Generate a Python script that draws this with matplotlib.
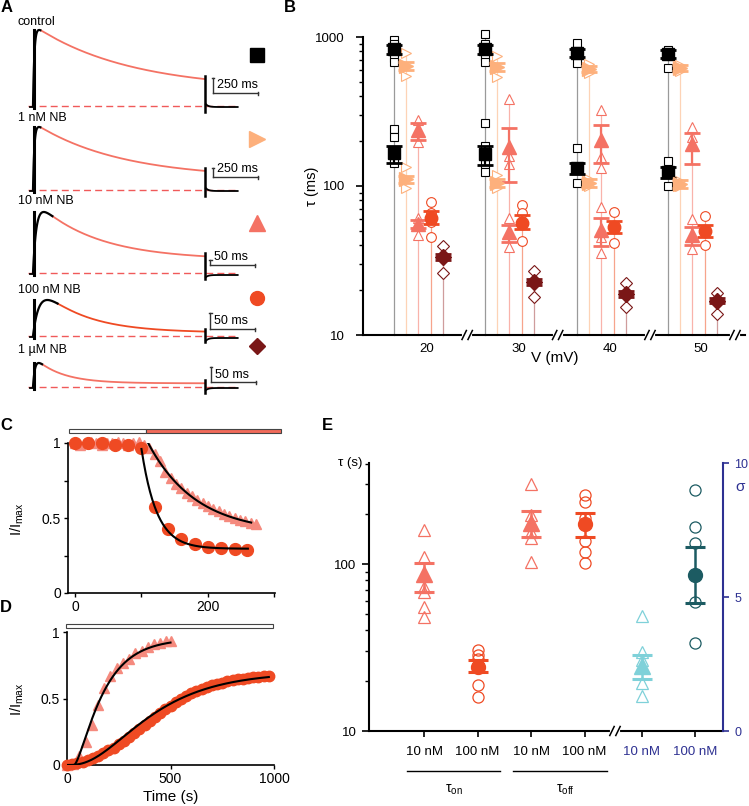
import numpy as np
import matplotlib
matplotlib.use("Agg")
import matplotlib.pyplot as plt
from matplotlib.patches import Rectangle

plt.rcParams["font.family"] = ["Liberation Sans", "DejaVu Sans"]
plt.rcParams["mathtext.fontset"] = "custom"
plt.rcParams["mathtext.rm"] = "Liberation Sans"
plt.rcParams["mathtext.it"] = "Liberation Sans:italic"
plt.rcParams["font.size"] = 9

W, H = 749, 806

# ======================== colours ========================
C_CTRL = "#000000"
C_NB1 = "#fdb07c"
C_NB10 = "#f47264"
C_NB100 = "#ef4a23"
C_NB1000 = "#7a1717"
C_CYAN = "#7fd1d9"
C_TEAL = "#1c5b62"
C_NAVY = "#2e3192"
C_BASE = "#f05a5a"

# ======================== data ========================
# A: example traces (exponential decay parameters, pulse-normalised time)
trace_names = ["control", "1 nM NB", "10 nM NB", "100 nM NB", "1 µM NB"]
trace_tau = [0.556, 0.50, 0.35, 0.26, 0.157]
trace_rise = [0.008, 0.008, 0.02, 0.04, 0.012]
trace_ss = [0.20, 0.17, 0.18, 0.06, 0.12]
trace_black = [0.04, 0.04, 0.11, 0.14, 0.05]
pulse_ms = [960, 960, 192, 192, 192]
scale_ms = [250, 250, 50, 50, 50]

# B: time constants (ms) at each voltage
volt = [20, 30, 40, 50]
ctrl_slow_mean = [830, 830, 782, 769]
ctrl_slow_lo = [770, 765, 730, 725]
ctrl_slow_hi = [885, 890, 835, 815]
ctrl_slow_pts = [[960, 900, 790, 720, 680], [1050, 900, 740, 680], [912, 670], [818, 620]]
ctrl_fast_mean = [166, 163, 132, 124]
ctrl_fast_lo = [143, 138, 120, 113]
ctrl_fast_hi = [186, 186, 143, 135]
ctrl_fast_pts = [[241, 213, 150, 143], [265, 186, 140, 124], [180, 105], [147, 100]]

nb1_slow_mean = [638, 630, 609, 620]
nb1_slow_lo = [600, 592, 582, 592]
nb1_slow_hi = [676, 668, 638, 650]
nb1_slow_pts = [[780, 545], [750, 540], [660, 570], [650, 590]]
nb1_fast_mean = [111, 105, 105, 103]
nb1_fast_lo = [105, 99, 99, 97]
nb1_fast_hi = [117, 111, 111, 109]
nb1_fast_pts = [[135, 97], [118, 97], [112, 100], [108, 100]]

nb10_slow_mean = [238, 183, 204, 191]
nb10_slow_lo = [203, 107, 143, 140]
nb10_slow_hi = [265, 245, 256, 228]
nb10_slow_pts = [[277, 197], [385, 160, 140], [323, 157, 132], [248, 213]]
nb10_fast_mean = [55.6, 49, 50.7, 46.9]
nb10_fast_lo = [52, 42, 39.5, 40]
nb10_fast_hi = [59, 54.8, 61, 53]
nb10_fast_pts = [[61, 47], [61, 39], [72, 45.5, 35.5], [60, 37.8]]

nb100_mean = [61, 56.5, 53, 49.9]
nb100_lo = [55.6, 51.5, 48.5, 45.4]
nb100_hi = [68, 64, 58, 54.8]
nb100_pts = [[78, 66, 57, 45.5], [74.5, 66, 42.7], [67, 41.5], [63, 40]]

nb1000_mean = [33.4, 22.7, 18.8, 16.9]
nb1000_lo = [32, 21.7, 18, 16.3]
nb1000_hi = [35, 23.8, 19.7, 17.6]
nb1000_pts = [[39.5, 26], [26.9, 18], [22.3, 15.4], [19.2, 13.8]]

# C: onset of block
c_tri_t = [0, 8, 16, 24, 32, 40, 48, 56, 64, 72, 80, 88, 96, 104, 112, 120, 128, 136,
           144, 152, 160, 168, 176, 184, 192, 200, 208, 216, 224, 232, 240, 248, 256, 264, 272]
c_tri_y = [1.0, 0.99, 1.0, 1.01, 1.0, 0.99, 1.0, 1.0, 1.01, 1.0, 0.99, 1.0, 1.01, 0.99,
           0.97, 0.93, 0.88, 0.81, 0.77, 0.73, 0.70, 0.67, 0.645, 0.62, 0.60, 0.58, 0.56,
           0.545, 0.53, 0.515, 0.50, 0.49, 0.48, 0.47, 0.46]
c_cir_t = [0, 20, 40, 60, 80, 100, 120, 140, 160, 180, 200, 220, 240, 258]
c_cir_y = [1.0, 1.0, 1.0, 0.99, 0.99, 0.97, 0.575, 0.427, 0.36, 0.327, 0.31, 0.30, 0.295, 0.29]
c_fit_tri = dict(t0=110, t1=265, y0=1.0, ss=0.40, tau=72)
c_fit_cir = dict(t0=100, t1=260, y0=0.96, ss=0.295, tau=23)

# D: recovery from block
d_tri_t = [0, 30, 60, 90, 120, 150, 180, 210, 240, 270, 300, 330, 360, 390, 420, 450, 480, 500]
d_tri_y = [0.0, 0.01, 0.07, 0.17, 0.30, 0.45, 0.58, 0.67, 0.73, 0.77, 0.80, 0.84, 0.86,
           0.89, 0.91, 0.92, 0.93, 0.93]
d_cir_t = list(range(0, 1000, 25))
d_cir_y = [0.00, 0.005, 0.015, 0.025, 0.04, 0.055, 0.07, 0.09, 0.11, 0.13, 0.155, 0.18,
           0.21, 0.24, 0.27, 0.30, 0.33, 0.36, 0.39, 0.42, 0.445, 0.47, 0.50, 0.52, 0.54,
           0.56, 0.575, 0.59, 0.60, 0.61, 0.62, 0.63, 0.64, 0.645, 0.65, 0.655, 0.66,
           0.665, 0.67, 0.672]
d_fit_tri = dict(amp=0.95, t0=35, tau=120, sig=1.5, t1=500)
d_fit_cir = dict(amp=0.70, t0=0, tau=245, sig=3.0, t1=975)

# E: tau (s) and sigma
e_labels = ["10 nM", "100 nM", "10 nM", "100 nM", "10 nM", "100 nM"]
ton10_pts = [160, 110, 86, 73, 68, 55, 48.5]
ton10_mean, ton10_lo, ton10_hi = 87, 68, 101
ton100_pts = [30.5, 28.5, 27, 18.9, 16]
ton100_mean, ton100_lo, ton100_hi = 24.2, 22.6, 26.5
toff10_pts = [300, 196, 178, 155, 143, 103]
toff10_mean, toff10_lo, toff10_hi = 176, 145, 208
toff100_pts = [259, 235, 190, 137, 118, 102]
toff100_mean, toff100_lo, toff100_hi = 173, 145, 203
sig10_pts = [4.3, 2.95, 2.65, 1.8, 1.3]
sig10_mean, sig10_lo, sig10_hi = 2.43, 1.94, 2.84
sig100_pts = [9.0, 7.6, 7.0, 4.8, 3.3]
sig100_mean, sig100_lo, sig100_hi = 5.82, 4.78, 6.87


def box(l, t, r, b):
    """pixel box -> figure fraction rect"""
    return [l / W, 1 - b / H, (r - l) / W, (b - t) / H]


def ftext(x, y, s, **kw):
    fig.text(x / W, 1 - y / H, s, **kw)


fig = plt.figure(figsize=(W / 100, H / 100), dpi=100)

# ======================== A ========================
base_px = [106, 190, 273, 336, 387]
amp_px = [76, 63, 61, 36, 24]
label_px = [22, 118, 201, 290, 350]
mark_px = [55, 139, 223, 298, 346]
bar_y_px = [93, 177, 265, 329, 382]
bar_h_px = [15, 9, 5, 16, 15]
bar_x = [1.047, 1.047, 1.03, 1.03, 1.035]
tail0 = [4, 4, -3, -4, -3]
tail_lvl = [-1, -1, -2, -2, -1]
red_col = [C_NB10, C_NB10, C_NB10, C_NB100, C_NB10]
leg_style = [("s", C_CTRL, 10), (">", C_NB1, 11), ("^", C_NB10, 11),
             ("o", C_NB100, 10), ("D", C_NB1000, 8.5)]
T_PX = 172.0   # pixels per pulse

for i in range(5):
    b, a = base_px[i], amp_px[i]
    ax = fig.add_axes(box(33 - 0.06 * T_PX, b - a - 12, 33 + 1.36 * T_PX, b + 14))
    ax.set_xlim(-0.06, 1.36)
    ax.set_ylim(-14, a + 12)
    ax.axis("off")
    ax.patch.set_alpha(0)

    t = np.linspace(0, 1, 800)
    shape = (1 - np.exp(-t / trace_rise[i])) * (trace_ss[i] + (1 - trace_ss[i]) * np.exp(-t / trace_tau[i]))
    y = a * shape / shape.max()
    k = t <= trace_black[i] + 0.003
    ax.plot([-0.03, 1.19], [0, 0], color=C_BASE, lw=1, ls=(0, (5, 3)), zorder=1)
    ax.plot(t[t >= trace_black[i]], y[t >= trace_black[i]], color=red_col[i], lw=1.3, zorder=2)
    ax.plot(t[k], y[k], color="black", lw=1.6, zorder=3)
    ax.plot([0.004, 0.004], [-2, a], color="black", lw=2.2, zorder=3)
    ax.plot([-0.02, 0.004], [-1, -1], color="black", lw=1.3, zorder=3)
    ax.plot([1.0, 1.0], [y[-1] + 3, -6], color="black", lw=1.8, zorder=3)
    tt = np.linspace(1.005, 1.19, 100)
    ax.plot(tt, tail_lvl[i] + tail0[i] * np.exp(-(tt - 1) / 0.015), color="black", lw=1.3, zorder=3)

    # scale bar
    yb = b - bar_y_px[i]
    xs = bar_x[i]
    xe = xs + scale_ms[i] / pulse_ms[i]
    ax.plot([xs, xs], [yb, yb + bar_h_px[i]], color="#333333", lw=1.0, clip_on=False)
    ax.plot([xs - 0.008, xs + 0.008], [yb + bar_h_px[i]] * 2, color="#333333", lw=1.0, clip_on=False)
    ax.plot([xs, xe], [yb, yb], color="#333333", lw=1.0, clip_on=False)
    ax.plot([xe, xe], [yb - 1.5, yb + 1.5], color="#333333", lw=1.0, clip_on=False)
    ax.text(xs + 0.025, yb + 1.5, f"{scale_ms[i]} ms", fontsize=9, va="bottom", ha="left")

    m, c, ms = leg_style[i]
    ax.plot(1.30, b - mark_px[i], m, color=c, ms=ms, mec=c, clip_on=False)
    ftext(18, label_px[i], trace_names[i], fontsize=9, va="center")

# ======================== B ========================
axb = fig.add_axes(box(363, 37, 745, 335))
axb.set_yscale("log")
axb.set_ylim(10, 1000)
axb.set_xlim(-0.70, 3.48)
gx = np.arange(len(volt))

b_series = [
    # mean, lo, hi, pts, offset, colour, marker, ms filled, ms open, guide colour
    (ctrl_slow_mean, ctrl_slow_lo, ctrl_slow_hi, ctrl_slow_pts, -0.36, C_CTRL, "s", 8, 5.5, "#9a9a9a"),
    (ctrl_fast_mean, ctrl_fast_lo, ctrl_fast_hi, ctrl_fast_pts, -0.36, C_CTRL, "s", 8, 5.5, None),
    (nb1_slow_mean, nb1_slow_lo, nb1_slow_hi, nb1_slow_pts, -0.23, C_NB1, ">", 10, 7, "#fdd3b6"),
    (nb1_fast_mean, nb1_fast_lo, nb1_fast_hi, nb1_fast_pts, -0.23, C_NB1, ">", 10, 7, None),
    (nb10_slow_mean, nb10_slow_lo, nb10_slow_hi, nb10_slow_pts, -0.10, C_NB10, "^", 10, 7, "#f9b3ab"),
    (nb10_fast_mean, nb10_fast_lo, nb10_fast_hi, nb10_fast_pts, -0.10, C_NB10, "^", 10, 7, None),
    (nb100_mean, nb100_lo, nb100_hi, nb100_pts, 0.045, C_NB100, "o", 9, 7, "#f7a48c"),
    (nb1000_mean, nb1000_lo, nb1000_hi, nb1000_pts, 0.175, C_NB1000, "D", 8, 6, "#cf9c9c"),
]
for mean, lo, hi, pts, off, col, mk, msf, mso, gcol in b_series:
    for g in gx:
        x = g + off
        if gcol is not None:
            top = max(max(pts[g]), hi[g])
            axb.plot([x, x], [10, top], color=gcol, lw=0.9, zorder=1, clip_on=False)
        axb.plot([x] * len(pts[g]), pts[g], mk, ms=mso, mfc="white", mec=col, mew=0.8,
                 zorder=2, clip_on=False)
        axb.errorbar(x, mean[g], yerr=[[mean[g] - lo[g]], [hi[g] - mean[g]]], fmt=mk,
                     color=col, ms=msf, capsize=6, capthick=2, elinewidth=1.6, zorder=3)

axb.set_yticks([10, 100, 1000])
axb.set_yticklabels(["10", "100", "1000"])
axb.tick_params(axis="y", which="major", length=5, width=1.2, pad=8, labelsize=9.5)
axb.tick_params(axis="y", which="minor", length=3, width=1.0)
axb.set_xticks(gx)
axb.set_xticklabels([str(v) for v in volt])
axb.tick_params(axis="x", length=0, pad=6, labelsize=9.5)
for s in ["top", "right"]:
    axb.spines[s].set_visible(False)
for s in ["left", "bottom"]:
    axb.spines[s].set_linewidth(1.5)


def draw_break(ax, xb, px_per_unit, px_height):
    tr = ax.get_xaxis_transform()
    d = 3.0 / px_per_unit
    s = 2.2 / px_per_unit
    h = 4.5 / px_height
    ax.plot([xb - d, xb + d], [0, 0], color="white", lw=3, transform=tr, clip_on=False, zorder=6)
    for c in (xb - d, xb + d):
        ax.plot([c - s, c + s], [-h, h], color="black", lw=1.1, transform=tr, clip_on=False, zorder=7)


for xb in [0.44, 1.43, 2.44, 3.37]:
    draw_break(axb, xb, 91.5, 298)

ftext(555, 358, "V (mV)", fontsize=11, ha="center", va="center")
ftext(312, 186, "τ (ms)", fontsize=10.5, ha="center", va="center", rotation=90)

# ======================== C ========================
axc = fig.add_axes(box(68, 443, 275, 593))
axc.set_xlim(-10.5, 300.8)
axc.set_ylim(0, 1)
axc.plot(c_tri_t, c_tri_y, "^", color="#f58a7e", ms=7.5, clip_on=False, zorder=2)
axc.plot(c_cir_t, c_cir_y, "o", color=C_NB100, ms=8.5, clip_on=False, zorder=3)
for f in (c_fit_tri, c_fit_cir):
    tf = np.linspace(f["t0"], f["t1"], 200)
    axc.plot(tf, f["ss"] + (f["y0"] - f["ss"]) * np.exp(-(tf - f["t0"]) / f["tau"]),
             color="black", lw=1.5, zorder=4)
tr = axc.get_xaxis_transform()
axc.add_patch(Rectangle((-9, 1.067), 116, 0.027, transform=tr, facecolor="white",
                        edgecolor="#444444", lw=0.8, clip_on=False))
axc.add_patch(Rectangle((107, 1.067), 203, 0.027, transform=tr, facecolor="#f26b5b",
                        edgecolor="#444444", lw=0.8, clip_on=False))
axc.set_xticks([0, 200])
axc.set_xticks([100, 300], minor=True)
axc.set_yticks([0, 0.5, 1])
axc.set_yticklabels(["0", "0.5", "1"])
axc.set_yticks([0.25, 0.75], minor=True)
axc.tick_params(which="both", length=3, width=1.0, labelsize=10, pad=2)
for s in ["top", "right"]:
    axc.spines[s].set_visible(False)
for s in ["left", "bottom"]:
    axc.spines[s].set_linewidth(1.2)
ftext(17, 519, r"I/I$_{\rm max}$", fontsize=10.5, ha="center", va="center", rotation=90)

# ======================== D ========================
axd = fig.add_axes(box(67, 632, 274, 765))
axd.set_xlim(0, 1000)
axd.set_ylim(0, 1)
axd.plot(d_tri_t, d_tri_y, "^", color="#f58a7e", ms=7.5, clip_on=False, zorder=2)
axd.plot(d_cir_t, d_cir_y, "o", color=C_NB100, ms=7.5, clip_on=False, zorder=3)
for f in (d_fit_tri, d_fit_cir):
    tf = np.linspace(f["t0"], f["t1"], 300)
    axd.plot(tf, f["amp"] * (1 - np.exp(-(tf - f["t0"]) / f["tau"])) ** f["sig"],
             color="black", lw=1.5, zorder=4)
tr = axd.get_xaxis_transform()
axd.add_patch(Rectangle((-5, 1.03), 1000, 0.03, transform=tr, facecolor="white",
                        edgecolor="#444444", lw=0.8, clip_on=False))
axd.set_xticks([0, 500, 1000])
axd.set_yticks([0, 0.5, 1])
axd.set_yticklabels(["0", "0.5", "1"])
axd.tick_params(which="both", length=3, width=1.0, labelsize=10, pad=2)
for s in ["top", "right"]:
    axd.spines[s].set_visible(False)
for s in ["left", "bottom"]:
    axd.spines[s].set_linewidth(1.2)
ftext(17, 699, r"I/I$_{\rm max}$", fontsize=10.5, ha="center", va="center", rotation=90)
ftext(171, 797, "Time (s)", fontsize=11, ha="center", va="center")

# ======================== E ========================
axe = fig.add_axes(box(369, 463, 723, 731))
axe.set_yscale("log")
axe.set_ylim(10, 403)
axe.set_xlim(-1.03, 5.59)
ex = [0, 1, 2, 3, 4.07, 5.07]

axs = axe.twinx()
axs.set_ylim(0, 10)

e_series = [
    (axe, ex[0], ton10_pts, ton10_mean, ton10_lo, ton10_hi, C_NB10, "^", 11, 8),
    (axe, ex[1], ton100_pts, ton100_mean, ton100_lo, ton100_hi, C_NB100, "o", 10, 8),
    (axe, ex[2], toff10_pts, toff10_mean, toff10_lo, toff10_hi, C_NB10, "^", 11, 8),
    (axe, ex[3], toff100_pts, toff100_mean, toff100_lo, toff100_hi, C_NB100, "o", 10, 8),
    (axs, ex[4], sig10_pts, sig10_mean, sig10_lo, sig10_hi, C_CYAN, "^", 11, 8),
    (axs, ex[5], sig100_pts, sig100_mean, sig100_lo, sig100_hi, C_TEAL, "o", 10, 8),
]
for a_, x, pts, mean, lo, hi, col, mk, msf, mso in e_series:
    a_.plot([x] * len(pts), pts, mk, ms=mso, mfc="none", mec=col, mew=0.9, zorder=2, clip_on=False)
    a_.errorbar(x, mean, yerr=[[mean - lo], [hi - mean]], fmt=mk, color=col, ms=msf,
                capsize=7, capthick=2.2, elinewidth=1.8, zorder=3)

axe.set_yticks([10, 100])
axe.set_yticklabels(["10", "100"])
axe.tick_params(axis="y", which="major", length=5, width=1.2, pad=4, labelsize=9.5)
axe.tick_params(axis="y", which="minor", length=3, width=1.0)
axe.set_xticks(ex)
axe.set_xticklabels(e_labels)
axe.tick_params(axis="x", length=4, width=1.2, pad=7, labelsize=9.5)
for lab in axe.get_xticklabels()[4:]:
    lab.set_color(C_NAVY)
for s in ["top", "right"]:
    axe.spines[s].set_visible(False)
for s in ["left", "bottom"]:
    axe.spines[s].set_linewidth(1.5)

axs.set_yticks([0, 5, 10])
axs.tick_params(axis="y", colors=C_NAVY, length=4, width=1.2, pad=4, labelsize=9)
for s in ["top", "left", "bottom"]:
    axs.spines[s].set_visible(False)
axs.spines["right"].set_color(C_NAVY)
axs.spines["right"].set_linewidth(1.5)

draw_break(axe, 3.57, 53.5, 268)

tr = axe.get_xaxis_transform()
axe.plot([-0.32, 1.42], [-0.149, -0.149], color="black", lw=1.0, transform=tr, clip_on=False)
axe.plot([1.66, 3.42], [-0.149, -0.149], color="black", lw=1.0, transform=tr, clip_on=False)
axe.text(0.56, -0.22, r"τ$_{\rm on}$", transform=tr, ha="center", va="center", fontsize=10)
axe.text(2.64, -0.22, r"τ$_{\rm off}$", transform=tr, ha="center", va="center", fontsize=10)

ftext(362, 463, "τ (s)", fontsize=9.5, ha="right", va="center")
ftext(740, 487, "σ", fontsize=11, ha="center", va="center", color=C_NAVY)

# ======================== panel letters ========================
for lab, x, y in [("A", 1, 7), ("B", 284, 8), ("C", 0, 426), ("D", 0, 607), ("E", 322, 425)]:
    ftext(x, y, lab, fontsize=12, fontweight="bold", ha="left", va="center")

fig.savefig("out.png", dpi=100)
